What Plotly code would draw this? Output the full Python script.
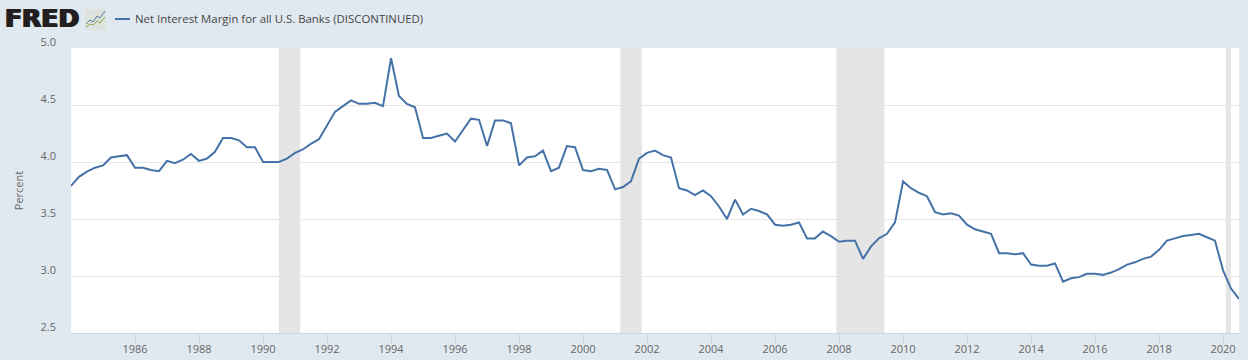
import plotly.graph_objects as go

dates_start_year = 1984
values = [
 3.79,3.87,3.915,3.95, 3.97,4.04,4.05,4.06, 3.95,3.95,3.93,3.92, 4.01,3.99,4.02,4.07,
 4.01,4.03,4.09,4.21, 4.21,4.19,4.13,4.13, 4.00,4.00,4.00,4.03, 4.08,4.11,4.16,4.20,
 4.32,4.44,4.49,4.54, 4.51,4.51,4.52,4.49, 4.91,4.58,4.51,4.48, 4.21,4.21,4.23,4.25,
 4.18,4.28,4.38,4.37, 4.14,4.365,4.365,4.34, 3.97,4.04,4.05,4.10, 3.92,3.95,4.14,4.13,
 3.93,3.92,3.94,3.93, 3.76,3.78,3.83,4.03, 4.08,4.10,4.06,4.04, 3.77,3.75,3.71,3.75,
 3.70,3.61,3.50,3.67, 3.54,3.59,3.57,3.54, 3.45,3.44,3.45,3.47, 3.33,3.33,3.39,3.35,
 3.30,3.31,3.31,3.15, 3.26,3.33,3.37,3.47, 3.83,3.77,3.73,3.70, 3.56,3.54,3.55,3.53,
 3.45,3.41,3.39,3.37, 3.20,3.20,3.19,3.20, 3.10,3.09,3.09,3.11, 2.95,2.98,2.99,3.02,
 3.02,3.01,3.03,3.06, 3.10,3.12,3.15,3.17, 3.23,3.31,3.33,3.35, 3.36,3.37,3.34,3.31,
 3.05,2.89,2.80,
]
dates = [f"{dates_start_year + i // 4}-{1 + 3 * (i % 4):02d}-01" for i in range(len(values))]
recessions = [("1990-07-01", "1991-03-01"), ("2001-03-01", "2001-11-01"),
              ("2007-12-01", "2009-06-01"), ("2020-02-01", "2020-04-01")]
series_name = "Net Interest Margin for all U.S. Banks (DISCONTINUED)"
x_ticks = [f"{y}-01-01" for y in range(1986, 2021, 2)]
x_tick_labels = [str(y) for y in range(1986, 2021, 2)]
y_ticks = [2.5, 3.0, 3.5, 4.0, 4.5, 5.0]
y_tick_labels = ["2.5", "3.0", "3.5", "4.0", "4.5", "5.0"]

W, H = 1248, 360
L, R, T, B = 71, 9, 48, 27
PW, PH = W - L - R, H - T - B
FONT = "Open Sans"

def px(x):
    return (x - L) / PW

def py(y):
    return 1 - (y - T) / PH

fig = go.Figure(go.Scatter(x=dates, y=values, mode="lines", name=series_name,
                           line=dict(color="#4572a7", width=2), showlegend=False))
shapes = [dict(type="rect", xref="x", yref="paper", x0=a, x1=b, y0=0, y1=1,
               fillcolor="#e5e5e5", line_width=0, layer="between") for a, b in recessions]
# legend key
shapes.append(dict(type="line", xref="paper", yref="paper", x0=px(115), x1=px(130), y0=py(19), y1=py(19),
                   line=dict(color="#4572a7", width=2)))

icon = ("data:image/svg+xml;utf8,<svg xmlns='http://www.w3.org/2000/svg' width='21' height='21'>"
        "<rect width='21' height='21' rx='2' fill='%23dfe1dc'/>"
        "<polyline points='1,15 5,11 8,13 12,7 15,9 20,2' fill='none' stroke='%23527fa8' stroke-width='1'/>"
        "<polyline points='1,18 5,15 8,16 12,12 15,14 20,8' fill='none' stroke='%238aa84c' stroke-width='1'/></svg>")

fig.update_layout(
    width=W, height=H, margin=dict(l=L, r=R, t=T, b=B, autoexpand=False),
    paper_bgcolor="#e1e9f0", plot_bgcolor="#ffffff",
    font=dict(family=FONT, size=11, color="#666666"),
    shapes=shapes,
    showlegend=False,
    xaxis=dict(type="date", range=["1984-01-01", "2020-07-01"], tickmode="array",
               tickvals=x_ticks, ticktext=x_tick_labels, ticks="outside", ticklen=10,
               tickcolor="#ccd6eb", tickwidth=1, showgrid=False, showline=True,
               linecolor="#ccd6eb", linewidth=1, zeroline=False, ticklabelstandoff=-4,
               tickfont=dict(size=11, color="#666666")),
    yaxis=dict(range=[2.5, 5.0], tickmode="array", tickvals=y_ticks, ticktext=y_tick_labels,
               showgrid=True, gridcolor="#e6e6e6", gridwidth=1, zeroline=False, showline=False,
               ticks="", ticklabelstandoff=14, ticklabelshift=-6,
               tickfont=dict(size=11, color="#666666"),
               title=dict(text="Percent", font=dict(size=11, color="#666666"), standoff=14)),
    images=[dict(source=icon, xref="paper", yref="paper", sizing="stretch", layer="above",
                 x=px(85), y=py(9), sizex=21 / PW, sizey=21 / PH, xanchor="left", yanchor="top")],
    annotations=[
        dict(text="<b>FRED</b>", xref="paper", yref="paper", showarrow=False,
             x=px(6), y=py(19), xanchor="left", yanchor="middle", xshift=-3,
             font=dict(family="DejaVu Sans", size=25, color="#231f20",
                       shadow="1px 0 0 #231f20, -1px 0 0 #231f20")),
        dict(text=series_name, xref="paper", yref="paper", showarrow=False,
             x=px(135), y=py(19), xanchor="left", yanchor="middle", xshift=-2,
             font=dict(family=FONT, size=11.4, color="#444444")),
    ],
)
fig.write_html("out.html", config=dict(displayModeBar=False),
               post_script="document.body.style.margin='0';document.body.style.overflow='hidden';")
